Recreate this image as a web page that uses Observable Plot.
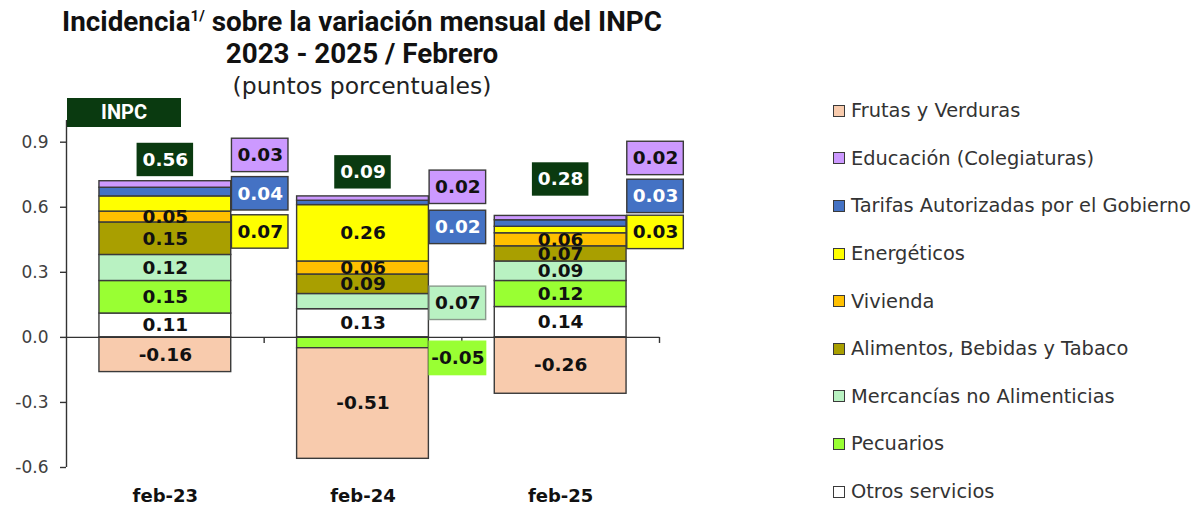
<!DOCTYPE html>
<html>
<head>
<meta charset="utf-8">
<script src="https://cdn.jsdelivr.net/npm/d3@7"></script>
<script src="https://cdn.jsdelivr.net/npm/@observablehq/plot@0.6"></script>
<style>
  html, body { margin: 0; padding: 0; background: #fff; }
  #wrap { position: relative; width: 1202px; height: 507px; overflow: hidden; background: #fff; }
  #title { position: absolute; left: 0; top: 6px; width: 724px; text-align: center; color: #111; z-index: 2; }
  #title .t1 { font-family: Roboto, "DejaVu Sans", sans-serif; font-weight: 700; font-size: 27.8px; line-height: 32px; }
  #title .t1 sup { font-size: 15px; vertical-align: 10px; line-height: 0; }
  #title .t2 { font-family: "DejaVu Sans", sans-serif; font-size: 23.5px; line-height: 32px; color: #222; }
  #chart { position: absolute; left: 0; top: 90px; z-index: 1; }
  #inpcTag { position: absolute; left: 67px; top: 98px; width: 114px; height: 29px; background: #0a3a10;
             color: #fff; font-family: Roboto, "DejaVu Sans", sans-serif; font-weight: 700; font-size: 20px;
             line-height: 29px; text-align: center; z-index: 2; }
  #legend { position: absolute; left: 833px; top: 87px; }
  .item { height: 47.6px; display: flex; align-items: center; font-family: "DejaVu Sans", sans-serif;
          font-size: 19.4px; color: #333; white-space: nowrap; }
  .sw { width: 10px; height: 10px; border: 1.5px solid #3a3a3a; margin-right: 6px; flex: none; }
</style>
</head>
<body>
<div id="wrap">
  <div id="chart"></div>
  <div id="title">
    <div class="t1">Incidencia<sup>1/</sup> sobre la variación mensual del INPC</div>
    <div class="t1">2023 - 2025 / Febrero</div>
    <div class="t2">(puntos porcentuales)</div>
  </div>
  <div id="inpcTag">INPC</div>
  <div id="legend"></div>
</div>
<script>
// ---------------- data ----------------
const categories = ["feb-23", "feb-24", "feb-25"];
// stacking order (bottom to top); legend shows the reverse
const series = [
  "Otros servicios",
  "Pecuarios",
  "Mercancías no Alimenticias",
  "Alimentos, Bebidas y Tabaco",
  "Vivienda",
  "Energéticos",
  "Tarifas Autorizadas por el Gobierno",
  "Educación (Colegiaturas)",
  "Frutas y Verduras"
];
const otrosServicios = [0.11, 0.13, 0.14];
const pecuarios      = [0.15, -0.05, 0.12];
const mercancias     = [0.12, 0.07, 0.09];
const alimentos      = [0.15, 0.09, 0.07];
const vivienda       = [0.05, 0.06, 0.06];
const energeticos    = [0.07, 0.26, 0.03];
const tarifas        = [0.04, 0.02, 0.03];
const educacion      = [0.03, 0.02, 0.02];
const frutasVerduras = [-0.16, -0.51, -0.26];
const inpc           = [0.56, 0.09, 0.28];
const yTicks = [-0.6, -0.3, 0.0, 0.3, 0.6, 0.9];

// ---------------- styling / layout ----------------
const colors = ["#ffffff", "#99ff33", "#b9f2c2", "#a99f00", "#ffc000", "#ffff00", "#4472c4", "#cc99ff", "#f8cbad"];
// labels drawn beside the column instead of inside it: offset from segment middle (value units)
const beside = {
  "feb-23|Educación (Colegiaturas)": 0.134,
  "feb-23|Tarifas Autorizadas por el Gobierno": -0.008,
  "feb-23|Energéticos": -0.129,
  "feb-24|Educación (Colegiaturas)": 0.052,
  "feb-24|Tarifas Autorizadas por el Gobierno": -0.113,
  "feb-24|Mercancías no Alimenticias": -0.008,
  "feb-24|Pecuarios": -0.072,
  "feb-25|Educación (Colegiaturas)": 0.275,
  "feb-25|Tarifas Autorizadas por el Gobierno": 0.125,
  "feb-25|Energéticos": -0.011
};
const inpcLift = [0.098, 0.111, 0.168];

const values = [otrosServicios, pecuarios, mercancias, alimentos, vivienda, energeticos, tarifas, educacion, frutasVerduras];
const colorOf = new Map(series.map((s, j) => [s, colors[j]]));

// build stacked table
const rows = [];
const tops = [];
categories.forEach((c, i) => {
  let pos = 0, neg = 0;
  values.forEach((vals, j) => {
    const v = vals[i];
    let y1, y2;
    if (v >= 0) { y1 = pos; y2 = pos + v; pos = y2; }
    else { y1 = neg; y2 = neg + v; neg = y2; }
    const key = c + "|" + series[j];
    rows.push({cat: c, i, series: series[j], value: v, y1, y2, mid: (y1 + y2) / 2,
               side: key in beside, off: beside[key] || 0});
  });
  tops.push(pos);
});
const inside = rows.filter(d => !d.side);
const sideRows = rows.filter(d => d.side).map(d => ({...d, ly: d.mid + d.off}));
const totals = categories.map((c, i) => ({i, value: inpc[i], ly: tops[i] + inpcLift[i]}));

const fmt = v => v.toFixed(2);
const FONT = "DejaVu Sans, sans-serif";
const BW = 1/3, SX = 0.48, SW = 0.143, SH = 0.077;

const chart = Plot.plot({
  width: 700,
  height: 417,
  marginTop: 30,
  marginBottom: 40,
  marginLeft: 66,
  marginRight: 41,
  x: {domain: [-0.5, 2.5], axis: null},
  y: {domain: [-0.6, 1.0], axis: null},
  color: {domain: series, range: colors},
  style: {fontFamily: FONT, background: "transparent", overflow: "visible"},
  marks: [
    Plot.rect(rows, {x1: d => d.i - BW, x2: d => d.i + BW, y1: "y1", y2: "y2", fill: "series",
                     stroke: "#3a3a3a", strokeWidth: 1.4}),
    Plot.ruleY([0], {stroke: "#333", strokeWidth: 1.4}),
    Plot.ruleX([0.5, 1.5, 2.5], {y1: 0, y2: -0.028, stroke: "#333", strokeWidth: 1.4}),
    Plot.ruleX([-0.5], {stroke: "#333", strokeWidth: 1.4}),
    Plot.axisY(yTicks, {tickSize: 6, tickPadding: 12, tickFormat: d => d.toFixed(1), label: null,
                        fontSize: 17, fontFamily: FONT, fill: "#404040", stroke: "#333", strokeWidth: 1.4}),
    Plot.axisX([0, 1, 2], {tickSize: 0, tickPadding: 22, tickFormat: i => categories[i], label: null,
                           fontSize: 18, fontWeight: "bold", fontFamily: FONT, fill: "#111"}),
    // labels inside segments
    Plot.text(inside, {x: "i", y: "mid", text: d => fmt(d.value), fontSize: 18.5, fontWeight: "bold",
                       fontFamily: FONT, fill: "#111"}),
    // labels beside the columns
    Plot.rect(sideRows, {x1: d => d.i + SX - SW, x2: d => d.i + SX + SW, y1: d => d.ly - SH, y2: d => d.ly + SH,
                         fill: d => colorOf.get(d.series),
                         stroke: d => d.series === "Pecuarios" ? colorOf.get(d.series) : (d.series === "Mercancías no Alimenticias" ? "#8a9a8c" : "#3a3a3a"),
                         strokeWidth: 1.4}),
    Plot.text(sideRows, {x: d => d.i + SX, y: "ly", text: d => fmt(d.value), fontSize: 18.5, fontWeight: "bold",
                         fontFamily: FONT,
                         fill: d => d.series === "Tarifas Autorizadas por el Gobierno" ? "#fff" : "#111"}),
    // INPC totals
    Plot.rect(totals, {x1: d => d.i - SW, x2: d => d.i + SW, y1: d => d.ly - SH, y2: d => d.ly + SH,
                       fill: "#0a3a10"}),
    Plot.text(totals, {x: "i", y: "ly", text: d => fmt(d.value), fontSize: 18.5, fontWeight: "bold",
                       fontFamily: FONT, fill: "#fff"})
  ]
});
document.getElementById("chart").appendChild(chart);

// legend (reverse of stack order)
const legend = d3.select("#legend");
series.slice().reverse().forEach(s => {
  const it = legend.append("div").attr("class", "item");
  it.append("div").attr("class", "sw").style("background", colorOf.get(s));
  it.append("span").text(s);
});
</script>
</body>
</html>
